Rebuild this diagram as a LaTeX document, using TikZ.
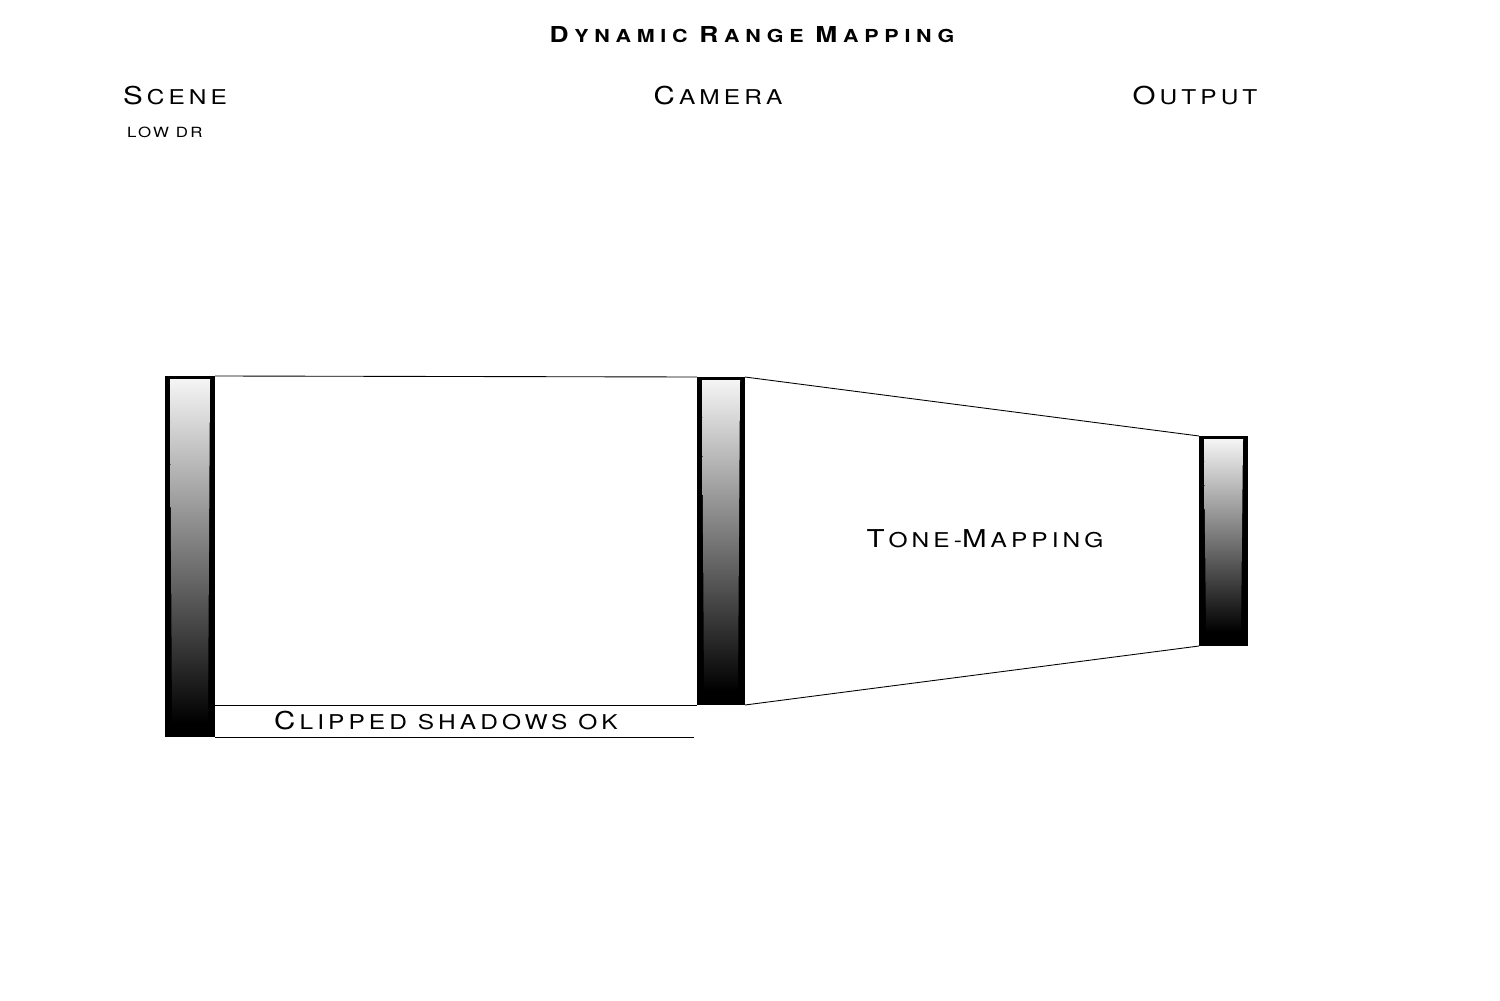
\documentclass[tikz,border=0pt]{standalone}
\usepackage{fontspec}
\newfontfamily\cpfont{TeX Gyre Heros}[FakeStretch=1.2, LetterSpace=20]
\usepackage{tikz}
\usetikzlibrary{calc}
\definecolor{g1}{gray}{0.96}

% initial capital, drawn larger than the rest of the word
\newcommand{\bigc}[1]{{\fontsize{14}{16}\selectfont #1}\kern0.2em}
\newcommand{\bigt}[1]{{\fontsize{12.5}{15}\selectfont #1}\kern0.32em}

\tikzset{
  heading/.style={font=\cpfont\fontsize{11.6}{16}\selectfont},
  thin line/.style={line width=0.5pt}
}

% bar: name, left, top, right, bottom (in pixel units)
\newcommand{\tonebar}[5]{%
  \fill[black] (#2,#3) rectangle (#4,#5);
  \shade[top color=g1, bottom color=black]
    (#2+5,#3+3) -- (#4-5,#3+3) -- (#4-7,#5-14) -- (#2+7,#5-14) -- cycle;
  \coordinate (#1NW) at (#2,#3);
  \coordinate (#1NE) at (#4,#3);
  \coordinate (#1SW) at (#2,#5);
  \coordinate (#1SE) at (#4,#5);
}

\begin{document}
\begin{tikzpicture}[x=0.02cm, y=-0.02cm]
  \useasboundingbox (0,0) rectangle (1500,1000);

  \node[font=\cpfont\bfseries\fontsize{10.2}{15}\selectfont\addfontfeature{LetterSpace=32}] (title) at (752,35)
    {\bigt{D}YNAMIC \bigt{R}ANGE \bigt{M}APPING};
  \node[heading] (scene) at (175,96) {\bigc{S}CENE};
  \node[heading] (camera) at (718,96) {\bigc{C}AMERA};
  \node[heading] (output) at (1195,96) {\bigc{O}UTPUT};
  \node[font=\cpfont\fontsize{8}{10}\selectfont\addfontfeature{LetterSpace=16}, anchor=west] (lowdr) at (121,132) {LOW DR};

  \tonebar{sc}{165}{376}{215}{737}
  \tonebar{cam}{697}{377}{745}{705}
  \tonebar{out}{1199}{436}{1248}{646}

  \draw[thin line] (scNE) -- (camNW);
  \draw[thin line] (scNE |- camSW) -- (camSW);
  \coordinate (clipEnd) at (694,737);
  \draw[thin line] (scSE) -- (clipEnd);
  \draw[thin line] (camNE) -- (outNW);
  \draw[thin line] (camSE) -- (outSW);

  \node[heading] (clip) at (446,721) {\bigc{C}LIPPED SHADOWS OK};
  \node[heading] (tone) at (985,539) {\bigc{T}ONE-\bigc{M}APPING};
\end{tikzpicture}
\end{document}
